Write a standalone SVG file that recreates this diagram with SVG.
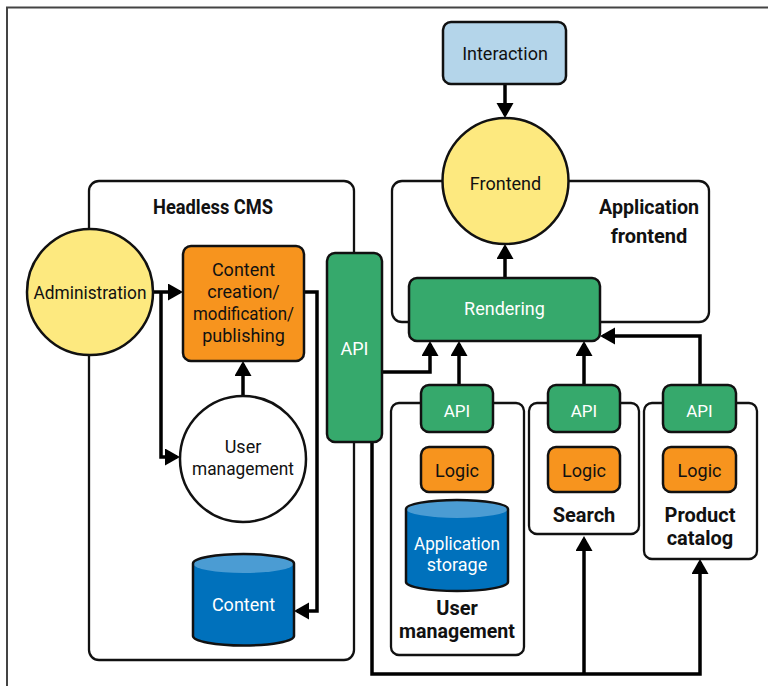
<svg xmlns="http://www.w3.org/2000/svg" width="768" height="686" viewBox="0 0 768 686">
  <style>
    text { font-family: Roboto, "Liberation Sans", sans-serif; text-anchor: middle; }
    .t { font-size: 18px; fill: #111; }
    .w { font-size: 18px; fill: #fff; }
    .api { font-size: 17px; fill: #fff; }
    .b { font-size: 20px; font-weight: bold; fill: #111; }
    .box { stroke: #111; stroke-width: 2.5; }
    .frame { fill: #fff; stroke: #111; stroke-width: 2.3; }
    .green { fill: #36a96c; }
    .orange { fill: #f7941e; }
    .yellow { fill: #fde97f; }
    .sky { fill: #b4d5ea; }
    .cyl-body { fill: #0071bc; }
    .cyl-cap { fill: #4b9cd3; }
    .cyl-line { fill: none; stroke: #111; stroke-width: 2.5; }
    .wire { fill: none; stroke: #000; stroke-width: 3.5; stroke-linejoin: miter; }
  </style>
  <defs>
    <marker id="arrow" markerUnits="userSpaceOnUse" markerWidth="16" markerHeight="18" refX="12" refY="8.5" orient="auto">
      <path d="M0,0 L15,8.5 L0,17 Z" fill="#000"/>
    </marker>
  </defs>

  <!-- page frame -->
  <path d="M7,686 V7.5 H768" fill="none" stroke="#444" stroke-width="2"/>

  <!-- containers -->
  <g id="headless-cms">
    <rect class="frame" x="89" y="181" width="265" height="479" rx="10"/>
    <text class="b" x="213" y="214" textLength="120" lengthAdjust="spacingAndGlyphs">Headless CMS</text>
  </g>
  <g id="application-frontend">
    <rect class="frame" x="392" y="181" width="317" height="141" rx="10"/>
    <text class="b" x="649" y="214" textLength="100" lengthAdjust="spacingAndGlyphs">Application</text>
    <text class="b" x="649" y="243">frontend</text>
  </g>
  <g id="svc-user-management">
    <rect class="frame" x="391" y="403" width="133" height="252" rx="8"/>
    <text class="b" x="457" y="615">User</text>
    <text class="b" x="457" y="638" textLength="116" lengthAdjust="spacingAndGlyphs">management</text>
  </g>
  <g id="svc-search">
    <rect class="frame" x="529" y="403" width="110" height="131" rx="8"/>
    <text class="b" x="584" y="522">Search</text>
  </g>
  <g id="svc-product-catalog">
    <rect class="frame" x="644" y="403" width="113" height="156" rx="8"/>
    <text class="b" x="700" y="522">Product</text>
    <text class="b" x="700" y="545">catalog</text>
  </g>

  <!-- connectors -->
  <g id="connectors">
    <path class="wire" d="M505,84 V115" marker-end="url(#arrow)"/>
    <path class="wire" d="M505,278 V247" marker-end="url(#arrow)"/>
    <path class="wire" d="M153,292 H180" marker-end="url(#arrow)"/>
    <path class="wire" d="M161,292 V457 H177" marker-end="url(#arrow)"/>
    <path class="wire" d="M243,396 V364" marker-end="url(#arrow)"/>
    <path class="wire" d="M304,292 H317 V611 H297" marker-end="url(#arrow)"/>
    <path class="wire" d="M382,372 H430 V344" marker-end="url(#arrow)"/>
    <path class="wire" d="M459,385 V344" marker-end="url(#arrow)"/>
    <path class="wire" d="M584,385 V344" marker-end="url(#arrow)"/>
    <path class="wire" d="M700,385 V336 H603" marker-end="url(#arrow)"/>
    <path class="wire" d="M372,442 V674 H700 V562" marker-end="url(#arrow)"/>
    <path class="wire" d="M584,674 V539" marker-end="url(#arrow)"/>
  </g>

  <!-- nodes -->
  <g id="interaction">
    <rect class="box sky" x="443" y="22" width="123" height="62" rx="8"/>
    <text class="t" x="505" y="60">Interaction</text>
  </g>
  <g id="frontend">
    <circle class="box yellow" cx="505.5" cy="181" r="63"/>
    <text class="t" x="505.5" y="190">Frontend</text>
  </g>
  <g id="rendering">
    <rect class="box green" x="409" y="278" width="191" height="63" rx="8"/>
    <text class="w" x="504.5" y="315">Rendering</text>
  </g>
  <g id="administration">
    <circle class="box yellow" cx="90" cy="292" r="63"/>
    <text class="t" x="90" y="299" textLength="113" lengthAdjust="spacingAndGlyphs">Administration</text>
  </g>
  <g id="content-creation">
    <rect class="box orange" x="183" y="246" width="121" height="115" rx="8"/>
    <text class="t" x="243.5" y="276">Content</text>
    <text class="t" x="243.5" y="298">creation/</text>
    <text class="t" x="243.5" y="320" textLength="101" lengthAdjust="spacingAndGlyphs">modification/</text>
    <text class="t" x="243.5" y="342">publishing</text>
  </g>
  <g id="user-management">
    <circle class="box" fill="#fff" cx="243" cy="459" r="63"/>
    <text class="t" x="243" y="453">User</text>
    <text class="t" x="243" y="475" textLength="102" lengthAdjust="spacingAndGlyphs">management</text>
  </g>
  <g id="content-store">
    <path class="cyl-body" d="M193,563.5 A50.5,9.5 0 0 1 294,563.5 V636 A50.5,9.5 0 0 1 193,636 Z"/>
    <ellipse class="cyl-cap" cx="243.5" cy="563.5" rx="50.5" ry="9.5"/>
    <path class="cyl-line" d="M193,563.5 A50.5,9.5 0 0 1 294,563.5 V636 A50.5,9.5 0 0 1 193,636 Z"/>
    <text class="w" x="243.5" y="611">Content</text>
  </g>
  <g id="cms-api">
    <rect class="box green" x="327" y="253" width="55" height="189" rx="8"/>
    <text class="w" x="354.5" y="355">API</text>
  </g>

  <g id="um-api">
    <rect class="box green" x="421" y="385" width="72" height="47" rx="8"/>
    <text class="api" x="457" y="417">API</text>
  </g>
  <g id="um-logic">
    <rect class="box orange" x="421" y="447" width="72" height="45" rx="8"/>
    <text class="t" x="457" y="477">Logic</text>
  </g>
  <g id="application-storage">
    <path class="cyl-body" d="M406,509 A51,9 0 0 1 508,509 V582 A51,9 0 0 1 406,582 Z"/>
    <ellipse class="cyl-cap" cx="457" cy="509" rx="51" ry="9"/>
    <path class="cyl-line" d="M406,509 A51,9 0 0 1 508,509 V582 A51,9 0 0 1 406,582 Z"/>
    <text class="w" x="457" y="550" textLength="86" lengthAdjust="spacingAndGlyphs">Application</text>
    <text class="w" x="457" y="571">storage</text>
  </g>

  <g id="search-api">
    <rect class="box green" x="548" y="385" width="72" height="47" rx="8"/>
    <text class="api" x="584" y="417">API</text>
  </g>
  <g id="search-logic">
    <rect class="box orange" x="548" y="447" width="72" height="45" rx="8"/>
    <text class="t" x="584" y="477">Logic</text>
  </g>

  <g id="catalog-api">
    <rect class="box green" x="663" y="385" width="73" height="47" rx="8"/>
    <text class="api" x="699.5" y="417">API</text>
  </g>
  <g id="catalog-logic">
    <rect class="box orange" x="663" y="447" width="73" height="45" rx="8"/>
    <text class="t" x="699.5" y="477">Logic</text>
  </g>
</svg>
